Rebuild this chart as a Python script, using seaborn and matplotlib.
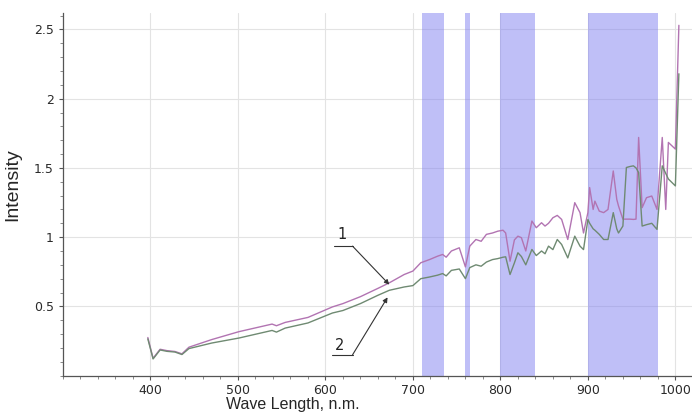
import numpy as np
import pandas as pd
import matplotlib
matplotlib.use("Agg")
import matplotlib.pyplot as plt
import seaborn as sns
from matplotlib.ticker import MultipleLocator

# ===============================
# DATA
# ===============================
wavelength = [397, 403, 411, 419, 428, 436, 444, 470, 501, 539, 544, 554, 580,
              608, 620, 640, 660, 673, 690, 700, 709, 719, 728, 734, 738, 744,
              753, 760, 765, 772, 778, 784, 791, 797, 803, 806, 811, 816, 820,
              824, 829, 836, 841, 847, 851, 855, 860, 865, 870, 877, 885, 891,
              895, 900, 902, 906, 908, 913, 918, 923, 929, 933, 935, 940, 944,
              948, 952, 955, 958, 962, 967, 973, 979, 985, 989, 992, 1000, 1004]

curve_1 = [0.275, 0.125, 0.19, 0.18, 0.174, 0.157, 0.205, 0.26, 0.317, 0.372,
           0.36, 0.384, 0.42, 0.496, 0.52, 0.57, 0.63, 0.67, 0.73, 0.755, 0.815,
           0.838, 0.862, 0.875, 0.855, 0.90, 0.923, 0.785, 0.935, 0.983, 0.97,
           1.02, 1.03, 1.043, 1.05, 1.03, 0.826, 0.98, 1.007, 0.996, 0.90, 1.116,
           1.068, 1.104, 1.08, 1.10, 1.14, 1.157, 1.128, 0.983, 1.249, 1.177,
           1.03, 1.177, 1.358, 1.20, 1.26, 1.188, 1.177, 1.20, 1.478, 1.273,
           1.225, 1.13, 1.13, 1.13, 1.128, 1.13, 1.72, 1.213, 1.285, 1.297, 1.20,
           1.72, 1.20, 1.684, 1.636, 2.53]

curve_2 = [0.265, 0.12, 0.185, 0.175, 0.17, 0.152, 0.195, 0.235, 0.271, 0.326,
           0.314, 0.343, 0.38, 0.452, 0.47, 0.52, 0.58, 0.616, 0.64, 0.65, 0.70,
           0.712, 0.725, 0.737, 0.72, 0.76, 0.77, 0.70, 0.78, 0.80, 0.79, 0.82,
           0.838, 0.845, 0.855, 0.858, 0.73, 0.814, 0.887, 0.86, 0.80, 0.911,
           0.867, 0.90, 0.88, 0.935, 0.91, 0.983, 0.947, 0.85, 1.007, 0.935,
           0.91, 1.128, 1.10, 1.06, 1.05, 1.02, 0.983, 0.983, 1.177, 1.06, 1.03,
           1.08, 1.503, 1.51, 1.515, 1.50, 1.467, 1.08, 1.09, 1.10, 1.056, 1.515,
           1.46, 1.42, 1.37, 2.18]

bands = [(710, 735), (760, 765), (800, 840), (900, 980)]

x_ticks = [400, 500, 600, 700, 800, 900, 1000]
y_ticks = [0.5, 1, 1.5, 2, 2.5]
y_tick_labels = ["0.5", "1", "1.5", "2", "2.5"]

df = pd.DataFrame({
    "wl": wavelength * 2,
    "val": curve_1 + curve_2,
    "curve": ["1"] * len(wavelength) + ["2"] * len(wavelength),
})

# ===============================
# PLOT
# ===============================
sns.set_theme(style="white")
plt.rcParams["font.family"] = ["DejaVu Sans"]

fig = plt.figure(figsize=(6.92, 4.15), dpi=100)
ax = fig.add_axes([0.091, 0.095, 0.909, 0.874])

ax.grid(True, color="#e3e3e3", linewidth=0.8, zorder=0)
ax.set_axisbelow(True)

for lo, hi in bands:
    ax.axvspan(lo, hi, color="#8080f0", alpha=0.5, lw=0, zorder=1)

sns.lineplot(data=df, x="wl", y="val", hue="curve",
             palette={"1": "#b274b2", "2": "#6f8a72"},
             linewidth=1.0, legend=False, ax=ax, zorder=3)

ax.set_xlim(300, 1019)
ax.set_ylim(0, 2.62)
ax.set_xticks(x_ticks)
ax.set_yticks(y_ticks)
ax.set_yticklabels(y_tick_labels)
ax.xaxis.set_minor_locator(MultipleLocator(20))
ax.yaxis.set_minor_locator(MultipleLocator(0.1))
ax.tick_params(axis="both", which="major", direction="out", length=3,
               width=0.8, color="#555555", labelsize=9, labelcolor="#2a2a2a",
               bottom=True, left=True)
ax.tick_params(axis="both", which="minor", direction="out", length=2,
               width=0.6, color="#777777", bottom=True, left=True)
ax.tick_params(axis="x", pad=3)

for side in ["top", "right"]:
    ax.spines[side].set_visible(False)
for side in ["left", "bottom"]:
    ax.spines[side].set_color("#555555")
    ax.spines[side].set_linewidth(0.9)

ax.set_xlabel("Wave Length, n.m.", fontsize=11.5,
              family=["Liberation Sans Narrow", "Liberation Sans"])
ax.xaxis.set_label_coords(0.366, -0.058)
ax.set_ylabel("Intensity", fontsize=14, family=["Liberation Sans"])
ax.yaxis.set_label_coords(-0.067, 0.526)

# curve labels with leader lines
arrow = dict(arrowstyle="-|>", color="#333333", lw=0.8, mutation_scale=7,
             shrinkA=0, shrinkB=0)
ax.plot([610, 631], [0.935, 0.935], color="#333333", lw=0.8, zorder=4)
ax.annotate("", xy=(673, 0.657), xytext=(631, 0.935), arrowprops=arrow, zorder=4)
ax.text(619.5, 0.965, "1", fontsize=10.5, ha="center", va="bottom", color="#222222")

ax.plot([608, 631], [0.15, 0.15], color="#333333", lw=0.8, zorder=4)
ax.annotate("", xy=(671, 0.565), xytext=(631, 0.15), arrowprops=arrow, zorder=4)
ax.text(616.6, 0.16, "2", fontsize=10.5, ha="center", va="bottom", color="#222222")

fig.savefig("out.png", dpi=100)
